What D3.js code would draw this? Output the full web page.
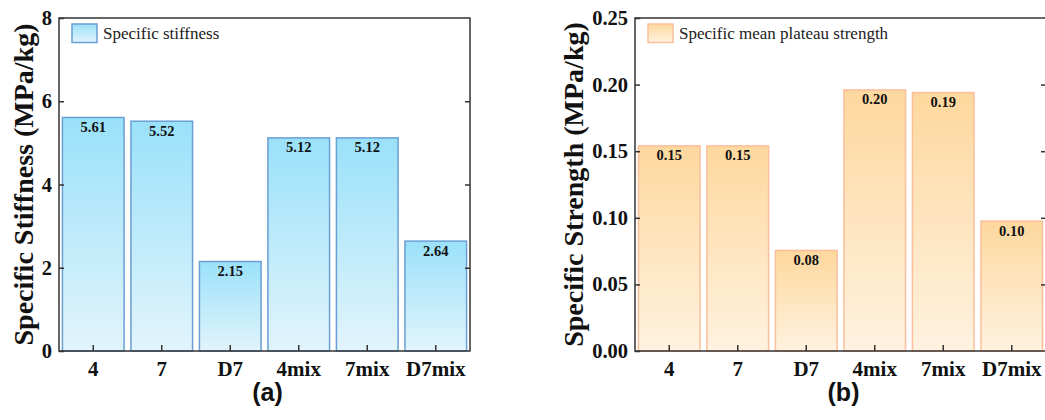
<!DOCTYPE html>
<html>
<head>
<meta charset="utf-8">
<script src="https://cdn.jsdelivr.net/npm/d3@7"></script>
<style>
  body { margin: 0; background: #fff; }
  svg text { font-family: "Liberation Serif", "Times New Roman", serif; }
</style>
</head>
<body>
<svg id="chart" width="1045" height="420"></svg>
<script>
// data
var categories = ["4", "7", "D7", "4mix", "7mix", "D7mix"];
var stiffness = [5.61, 5.52, 2.15, 5.12, 5.12, 2.64];
var strength = [0.154, 0.154, 0.0755, 0.196, 0.194, 0.0975];
var stiffnessTicks = [0, 2, 4, 6, 8];
var strengthTicks = [0, 0.05, 0.10, 0.15, 0.20, 0.25];

var svg = d3.select("#chart");
var defs = svg.append("defs");

// gradients per bar (top strong -> bottom light)
function addGradient(id, c1, c2) {
  var g = defs.append("linearGradient").attr("id", id)
    .attr("x1", 0).attr("y1", 0).attr("x2", 0).attr("y2", 1);
  g.append("stop").attr("offset", "0%").attr("stop-color", c1);
  g.append("stop").attr("offset", "100%").attr("stop-color", c2);
}
addGradient("blueGrad", "#9ae1f9", "#e2f4fc");
addGradient("orangeGrad", "#fdd89e", "#fff2e0");

var plotTop = 18, plotBottom = 351, plotW = 411;

function drawPanel(opt) {
  var left = opt.left;
  var x = d3.scaleBand().domain(categories)
    .range([left, left + plotW]).paddingInner(0.1).paddingOuter(0.05);
  var y = d3.scaleLinear().domain(opt.domain).range([plotBottom, plotTop]);
  var g = svg.append("g");

  // bars
  g.selectAll(".bar").data(opt.values).enter()
    .append("rect").attr("class", "bar")
    .attr("x", (d, i) => x(categories[i]))
    .attr("y", d => y(d))
    .attr("width", x.bandwidth())
    .attr("height", d => plotBottom - y(d))
    .attr("fill", "url(#" + opt.grad + ")")
    .attr("stroke", opt.stroke).attr("stroke-width", 1.5);

  // value labels
  g.selectAll(".val").data(opt.values).enter()
    .append("text").attr("class", "val")
    .attr("x", (d, i) => x(categories[i]) + x.bandwidth() / 2)
    .attr("y", d => y(d) + 14.5)
    .attr("text-anchor", "middle")
    .attr("font-size", 14.5).attr("font-weight", "bold").attr("fill", "#111")
    .text(d => d.toFixed(2));

  // frame
  g.append("rect").attr("x", left).attr("y", plotTop)
    .attr("width", plotW).attr("height", plotBottom - plotTop)
    .attr("fill", "none").attr("stroke", "#333").attr("stroke-width", 1.5);

  // left axis
  var yAxis = d3.axisLeft(y).tickValues(opt.ticks).tickFormat(opt.fmt)
    .tickSizeInner(-5).tickSizeOuter(0).tickPadding(7);
  var ya = g.append("g").attr("transform", "translate(" + left + ",0)").call(yAxis);
  ya.select(".domain").remove();
  ya.selectAll("line").attr("stroke", "#333").attr("stroke-width", 1.5);
  ya.selectAll("text").attr("font-size", 20.5).attr("font-weight", "bold")
    .attr("fill", "#111");

  // right axis (ticks only)
  var yAxisR = d3.axisRight(y).tickValues(opt.ticks.slice(1, -1)).tickFormat("")
    .tickSizeInner(-5).tickSizeOuter(0);
  var yr = g.append("g").attr("transform", "translate(" + (left + plotW) + ",0)").call(yAxisR);
  yr.select(".domain").remove();
  yr.selectAll("line").attr("stroke", "#333").attr("stroke-width", 1.5);

  // bottom axis
  var xAxis = d3.axisBottom(x).tickSizeInner(-6).tickSizeOuter(0).tickPadding(10);
  var xa = g.append("g").attr("transform", "translate(0," + plotBottom + ")").call(xAxis);
  xa.select(".domain").remove();
  xa.selectAll("line").attr("stroke", "#333").attr("stroke-width", 1.5);
  xa.selectAll("text").attr("font-size", 21).attr("font-weight", "bold")
    .attr("fill", "#111");

  // y title
  g.append("text")
    .attr("transform", "translate(" + opt.titleX + "," + ((plotTop + plotBottom) / 2) + ") rotate(-90)")
    .attr("text-anchor", "middle")
    .attr("font-size", 28).attr("font-weight", "bold").attr("fill", "#111")
    .text(opt.title);

  // legend
  g.append("rect").attr("x", left + 13).attr("y", 24)
    .attr("width", 25).attr("height", 18.5)
    .attr("fill", "url(#" + opt.grad + ")")
    .attr("stroke", opt.stroke).attr("stroke-width", 1.5);
  g.append("text").attr("x", left + 44).attr("y", 39)
    .attr("font-size", 17).attr("fill", "#222")
    .text(opt.legend);

  // panel label
  g.append("text").attr("x", left + plotW / 2 + 3).attr("y", 401)
    .attr("text-anchor", "middle")
    .style("font-family", "'Liberation Sans', Arial, sans-serif")
    .attr("font-size", 25).attr("font-weight", "bold").attr("fill", "#111")
    .text(opt.panel);
}

drawPanel({
  left: 59, values: stiffness, domain: [0, 8], ticks: stiffnessTicks,
  fmt: d3.format("d"), grad: "blueGrad", stroke: "#6a9fd4",
  title: "Specific Stiffness (MPa/kg)", titleX: 33,
  legend: "Specific stiffness", panel: "(a)"
});
drawPanel({
  left: 635, values: strength, domain: [0, 0.25], ticks: strengthTicks,
  fmt: d3.format(".2f"), grad: "orangeGrad", stroke: "#fbbf9c",
  title: "Specific Strength (MPa/kg)", titleX: 583,
  legend: "Specific mean plateau strength", panel: "(b)"
});
</script>
</body>
</html>
